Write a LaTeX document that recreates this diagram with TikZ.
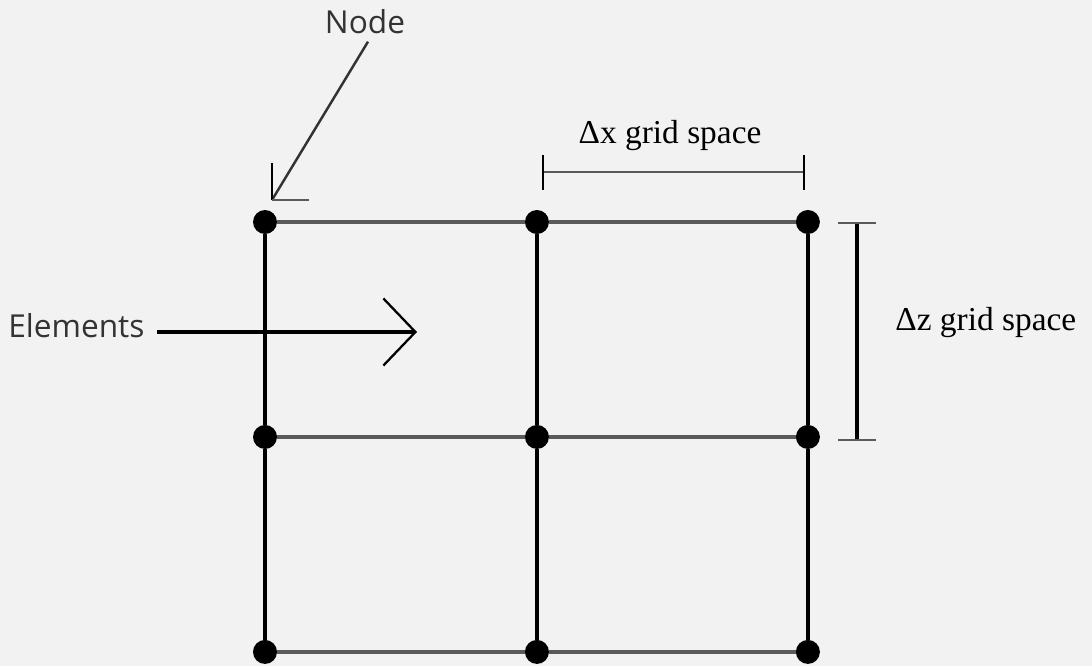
\documentclass[tikz,border=0pt]{standalone}
\usepackage{fontspec}
\setmainfont{Liberation Serif}
\setsansfont{Open Sans}
\usetikzlibrary{positioning, arrows.meta}
\definecolor{paper}{HTML}{F2F2F2}
\definecolor{rungrey}{HTML}{5A5A5A}

\tikzset{
  dot/.style={circle, fill=black, inner sep=0pt, minimum size=0.48cm},
  rowline/.style={draw=rungrey, line width=2pt},
  colline/.style={draw=black, line width=1.9pt},
  dimline/.style={draw=rungrey, line width=1.6pt},
  serlabel/.style={font=\fontsize{19}{22}\selectfont, inner sep=0pt},
  sanlabel/.style={font=\sffamily\fontsize{18}{21}\selectfont, inner sep=0pt, text=black!80}
}

\begin{document}
\begin{tikzpicture}[x=0.02cm, y=-0.02cm]

            \fill[paper] (0,0) rectangle (1092,666);
            \useasboundingbox (0,0) rectangle (1092,666);

            \node[dot] (A) at (265,222) {}; %top left
            \node[dot] (B) [on grid, right=5.44cm of A] {};
            \node[dot] (C) [on grid, right=5.42cm of B] {};

            \node[dot] (D) [on grid, below=4.3cm of A] {};
            \node[dot] (E) [on grid, below=4.3cm of B] {};
            \node[dot] (F) [on grid, below=4.3cm of C] {};

            \node[dot] (G) [on grid, below=4.3cm of D] {};
            \node[dot] (H) [on grid, below=4.3cm of E] {};
            \node[dot] (I) [on grid, below=4.3cm of F] {};

            % grid
            \path[rowline] (A) -- (B) (B) -- (C) (D) -- (E) (E) -- (F) (G) -- (H) (H) -- (I);
            \path[colline] (A) -- (D) (D) -- (G) (B) -- (E) (E) -- (H) (C) -- (F) (F) -- (I);

            % labels
            \node[sanlabel, anchor=base] (nodelbl) at (365,33) {Node};
            \coordinate (nodetip) at (272,200);
            \draw[line width=1.4pt, black!80] (nodelbl.south) ++(3,8) -- (nodetip);
            \draw[line width=1.6pt] (272,163) -- (nodetip);
            \draw[line width=1.6pt, rungrey] (nodetip) -- (309,200);

            \node[sanlabel, anchor=base west] (elem) at (8,337) {Elements};
            \coordinate (elemtip) at (417,332);
            \draw[line width=1.8pt, -{Straight Barb[length=0.64cm, width=1.34cm, line width=1.3pt]}]
              (157,332) -- (elemtip);

            % dimensions
            \node[serlabel, anchor=base] (dxlbl) at (670,143) {Δx grid space};
            \coordinate (dx1) at (543,172);
            \coordinate (dx2) at (804,172);
            \draw[dimline] (dx1) -- (dx2);
            \draw[line width=1.6pt] (543,155) -- (543,190) (804,155) -- (804,190);

            \node[serlabel, anchor=base west] (dzlbl) at (895,330) {Δz grid space};
            \coordinate (dz1) at (857,223);
            \coordinate (dz2) at (857,440);
            \draw[line width=1.8pt] (dz1) -- (dz2);
            \draw[dimline] (838,223) -- (876,223) (838,440) -- (876,440);

\end{tikzpicture}
\end{document}
